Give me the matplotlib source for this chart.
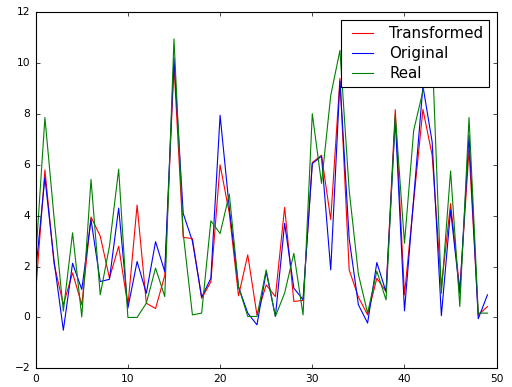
import matplotlib
matplotlib.use("Agg")
import matplotlib.pyplot as plt

# values, one per integer step 0..49
steps = list(range(50))
transformed = [1.0, 5.8, 2.1, 0.5, 1.75, 0.5, 3.95, 3.2, 1.55, 2.8,
               0.45, 4.42, 0.56, 0.35, 1.65, 9.9, 3.15, 3.1, 0.75, 1.4,
               6.0, 4.1, 0.85, 2.46, 0.1, 1.28, 0.82, 4.33, 0.63, 0.67,
               6.09, 6.38, 3.85, 9.4, 1.87, 0.8, 0.1, 1.54, 1.02, 8.17,
               0.89, 4.6, 8.18, 6.38, 1.2, 4.48, 1.08, 6.58, 0.1, 0.43]
original = [1.8, 5.5, 2.2, -0.5, 2.13, 1.1, 3.85, 1.41, 1.5, 4.3,
            0.37, 2.2, 0.95, 2.98, 1.8, 10.2, 4.09, 3.0, 0.8, 1.54,
            7.95, 4.3, 1.2, 0.17, -0.29, 1.8, 0.04, 3.7, 1.15, 0.7,
            6.05, 6.34, 1.87, 9.3, 3.1, 0.5, -0.22, 2.16, 1.0, 7.8,
            0.26, 4.7, 9.1, 6.9, 0.07, 4.22, 0.95, 7.16, -0.05, 0.89]
real = [2.3, 7.86, 3.9, 0.25, 3.33, 0.02, 5.43, 0.89, 2.8, 5.83,
        0.0, 0.0, 0.56, 1.94, 0.82, 10.95, 3.3, 0.1, 0.17, 3.8,
        3.3, 4.85, 1.2, 0.04, 0.04, 1.87, 0.04, 0.96, 2.52, 0.1,
        8.01, 5.27, 8.73, 10.5, 5.0, 1.7, 0.17, 1.82, 0.69, 7.95,
        2.92, 7.36, 8.9, 10.5, 0.95, 5.76, 0.43, 7.86, 0.17, 0.17]

plt.style.use("classic")
plt.rcParams["font.family"] = ["DejaVu Sans"]
plt.rcParams["font.size"] = 7.7
plt.rcParams["xtick.major.size"] = 2.6
plt.rcParams["ytick.major.size"] = 2.6

fig = plt.figure(figsize=(5.12, 3.87), dpi=100, facecolor="white")
ax = fig.add_axes([0.0697, 0.0483, 0.9004, 0.920])

ax.plot(steps, transformed, color="r", linewidth=0.8, label="Transformed")
ax.plot(steps, original, color="b", linewidth=0.8, label="Original")
ax.plot(steps, real, color="g", linewidth=0.8, label="Real")

ax.set_xlim(0, 50)
ax.set_ylim(-2, 12)
ax.set_xticks(range(0, 51, 10))
ax.set_yticks(range(-2, 13, 2))
for s in ax.spines.values():
    s.set_linewidth(0.8)

# legend text is noticeably bigger than the tick labels in the reference
leg = ax.legend(loc="upper right", fontsize=10.8, labelspacing=0.35)
leg.get_frame().set_linewidth(0.8)

fig.savefig("out.png", dpi=100, facecolor="white")
